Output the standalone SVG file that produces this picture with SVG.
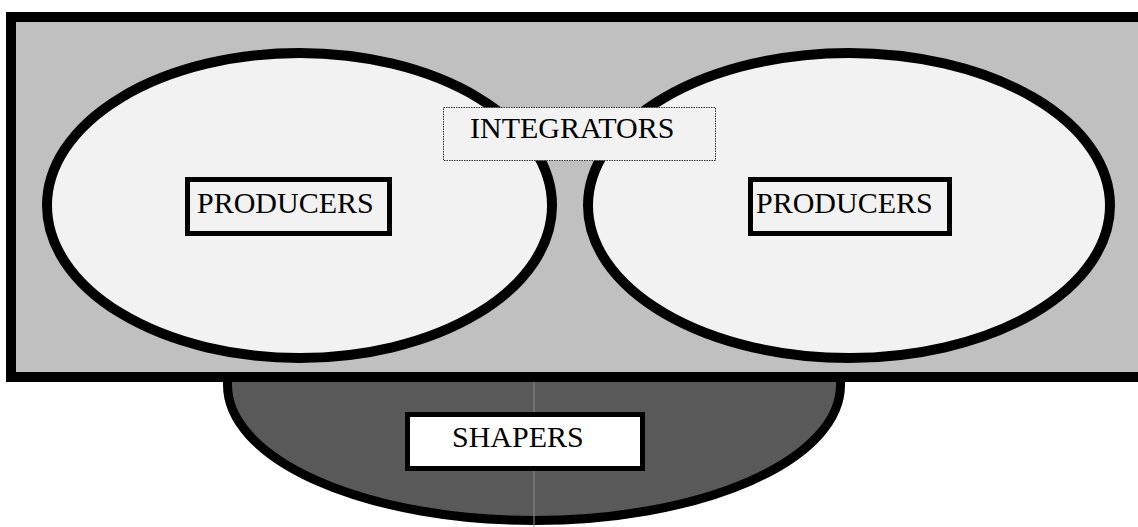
<svg xmlns="http://www.w3.org/2000/svg" width="1138" height="527" viewBox="0 0 1138 527">
  <style>
    .lbl { font-family: "Liberation Serif", "Times New Roman", serif; font-size: 30px; fill: #000; }
    .ell { fill: #f2f2f2; stroke: #000; stroke-width: 10; }
    .box { stroke: #000; stroke-width: 5; }
  </style>
  <rect width="1138" height="527" fill="#ffffff"/>
  <g id="shapers-area">
    <path d="M 227.5 368 L 227.5 385 A 306.5 135.5 0 0 0 840.5 385 L 840.5 368 Z" fill="#595959" stroke="#000" stroke-width="9"/>
  </g>
  <g id="integrators-area">
    <rect x="11" y="17" width="1140" height="360" fill="#c0c0c0" stroke="#000" stroke-width="10"/>
  </g>
  <g id="connectors">
    <line x1="534" y1="382" x2="534" y2="527" stroke="#8c8c8c" stroke-width="1"/>
  </g>
  <g id="producers-left">
    <ellipse class="ell" cx="299.5" cy="205.5" rx="252.5" ry="152.5"/>
    <rect class="box" x="187.5" y="179.5" width="202" height="54" fill="#f2f2f2"/>
    <text class="lbl" x="197" y="213">PRODUCERS</text>
  </g>
  <g id="producers-right">
    <ellipse class="ell" cx="849" cy="205.5" rx="261" ry="152.5"/>
    <rect class="box" x="750.5" y="179.5" width="199" height="54" fill="#f2f2f2"/>
    <text class="lbl" x="756" y="213">PRODUCERS</text>
  </g>
  <g id="integrators">
    <rect x="443.5" y="107.5" width="272" height="53" fill="#f2f2f2" stroke="#333" stroke-width="1" stroke-dasharray="1.5 1"/>
    <text class="lbl" x="470" y="138">INTEGRATORS</text>
  </g>
  <g id="shapers">
    <rect class="box" x="407.5" y="414.5" width="235" height="54" fill="#ffffff"/>
    <text class="lbl" x="452" y="447">SHAPERS</text>
  </g>
</svg>
